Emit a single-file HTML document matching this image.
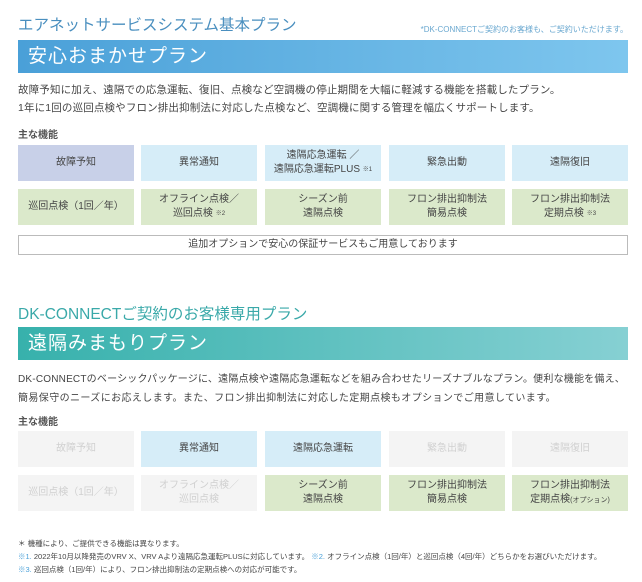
<!DOCTYPE html>
<html><head><meta charset="utf-8"><style>
*{margin:0;padding:0;box-sizing:border-box}
body{width:642px;height:582px;background:#fff;font-family:"Liberation Sans","Noto Sans CJK JP",sans-serif;color:#444;position:relative;overflow:hidden}
.a{position:absolute;white-space:nowrap}
.t1{left:18px;top:13px;font-size:15.5px;color:#4a8fbf}
.note{right:14px;top:24px;font-size:8px;color:#6aa8d0}
.band{left:18px;width:610px;height:33px;color:#fff;font-size:19px;padding-left:10px;line-height:33px;letter-spacing:1px}
.p{left:18px;font-size:10.5px;color:#444;letter-spacing:0.15px}
.h{left:18px;font-size:10px;font-weight:bold;color:#555}
.b{position:absolute;width:116px;height:36px;display:flex;align-items:center;justify-content:center;text-align:center;font-size:10px;line-height:14px;color:#444;white-space:nowrap}
.g1{background:#c8d0e8}.bl{background:#d6edf8}.gr{background:#dbe9cb}.off{background:#f4f4f4;color:#d0d0d0}
sup{font-size:6px;vertical-align:top}
.f{left:18px;font-size:7.5px;color:#444}
</style></head><body>
<div class="a t1">エアネットサービスシステム基本プラン</div>
<div class="a note">*DK-CONNECTご契約のお客様も、ご契約いただけます。</div>
<div class="a band" style="top:40px;background:linear-gradient(90deg,#4aa0d8,#7ec6ee)">安心おまかせプラン</div>
<div class="a p" style="top:82px">故障予知に加え、遠隔での応急運転、復旧、点検など空調機の停止期間を大幅に軽減する機能を搭載したプラン。</div>
<div class="a p" style="top:100px">1年に1回の巡回点検やフロン排出抑制法に対応した点検など、空調機に関する管理を幅広くサポートします。</div>
<div class="a h" style="top:126px">主な機能</div>
<div class="b g1" style="left:18px;top:145px"><div>故障予知</div></div>
<div class="b bl" style="left:141px;top:145px"><div>異常通知</div></div>
<div class="b bl" style="left:265px;top:145px"><div>遠隔応急運転 ／<br>遠隔応急運転PLUS <sup>※1</sup></div></div>
<div class="b bl" style="left:389px;top:145px"><div>緊急出動</div></div>
<div class="b bl" style="left:512px;top:145px"><div>遠隔復旧</div></div>
<div class="b gr" style="left:18px;top:189px"><div>巡回点検（1回／年）</div></div>
<div class="b gr" style="left:141px;top:189px"><div>オフライン点検／<br>巡回点検 <sup>※2</sup></div></div>
<div class="b gr" style="left:265px;top:189px"><div>シーズン前<br>遠隔点検</div></div>
<div class="b gr" style="left:389px;top:189px"><div>フロン排出抑制法<br>簡易点検</div></div>
<div class="b gr" style="left:512px;top:189px"><div>フロン排出抑制法<br>定期点検 <sup>※3</sup></div></div>
<div class="a" style="left:18px;top:235px;width:610px;height:20px;border:1px solid #bbb;font-size:10px;text-align:center;line-height:18px">追加オプションで安心の保証サービスもご用意しております</div>
<div class="a t1" style="top:302px;color:#3aa9a9">DK-CONNECTご契約のお客様専用プラン</div>
<div class="a band" style="top:327px;background:linear-gradient(90deg,#37b1ac,#86d0d3)">遠隔みまもりプラン</div>
<div class="a p" style="top:370px;font-size:10px;letter-spacing:0.2px">DK-CONNECTのベーシックパッケージに、遠隔点検や遠隔応急運転などを組み合わせたリーズナブルなプラン。便利な機能を備え、</div>
<div class="a p" style="top:389px;font-size:10px;letter-spacing:0.4px">簡易保守のニーズにお応えします。また、フロン排出抑制法に対応した定期点検もオプションでご用意しています。</div>
<div class="a h" style="top:413px">主な機能</div>
<div class="b off" style="left:18px;top:431px"><div>故障予知</div></div>
<div class="b bl" style="left:141px;top:431px"><div>異常通知</div></div>
<div class="b bl" style="left:265px;top:431px"><div>遠隔応急運転</div></div>
<div class="b off" style="left:389px;top:431px"><div>緊急出動</div></div>
<div class="b off" style="left:512px;top:431px"><div>遠隔復旧</div></div>
<div class="b off" style="left:18px;top:475px"><div>巡回点検（1回／年）</div></div>
<div class="b off" style="left:141px;top:475px"><div>オフライン点検／<br>巡回点検</div></div>
<div class="b gr" style="left:265px;top:475px"><div>シーズン前<br>遠隔点検</div></div>
<div class="b gr" style="left:389px;top:475px"><div>フロン排出抑制法<br>簡易点検</div></div>
<div class="b gr" style="left:512px;top:475px"><div>フロン排出抑制法<br>定期点検<span style="font-size:7px">(オプション)</span></div></div>
<div class="a f" style="top:538px">＊ 機種により、ご提供できる機能は異なります。</div>
<div class="a f" style="top:551px"><span style="color:#4aa0d8">※1.</span> 2022年10月以降発売のVRV X、VRV Aより遠隔応急運転PLUSに対応しています。 <span style="color:#4aa0d8">※2.</span> オフライン点検（1回/年）と巡回点検（4回/年）どちらかをお選びいただけます。</div>
<div class="a f" style="top:564px"><span style="color:#4aa0d8">※3.</span> 巡回点検（1回/年）により、フロン排出抑制法の定期点検への対応が可能です。</div>
</body></html>
